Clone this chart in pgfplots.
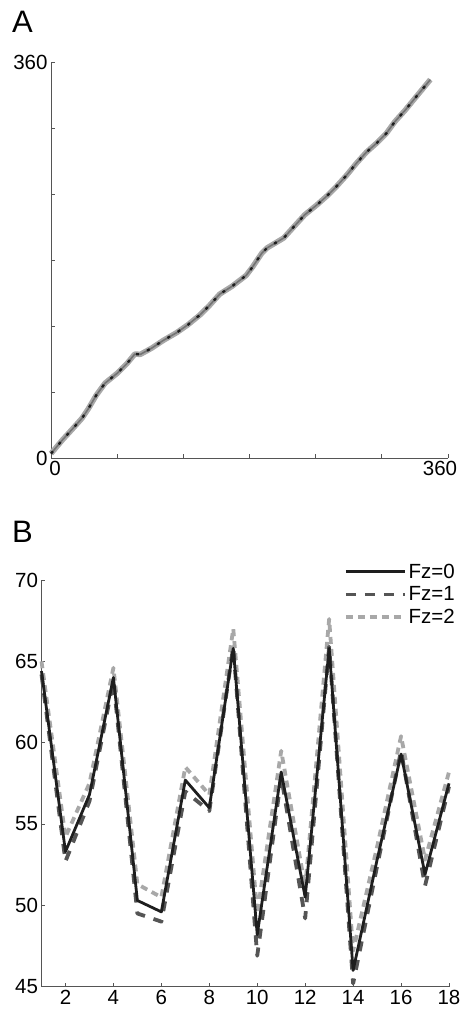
\documentclass[border=0pt]{standalone}
\usepackage{pgfplots}
\pgfplotsset{compat=1.18}
\usepackage{fontspec}
\setmainfont{Liberation Sans}
\definecolor{axgray}{HTML}{555555}
\definecolor{fzzero}{HTML}{1E1E1E}
\definecolor{fzone}{HTML}{555555}
\definecolor{fztwo}{HTML}{A8A8A8}
\pgfplotsset{
  myax/.style={
    scale only axis,
    axis x line=bottom, axis y line=left,
    axis line style={-, draw=axgray, line width=0.9pt},
    tick style={draw=axgray, line width=0.8pt},
    major tick length=4pt,
    tick align=inside,
    ticklabel style={font=\fontsize{20.5}{24}\selectfont, text=black},
    /pgf/number format/assume math mode=true,
    clip=false,
  }
}
\begin{document}
\begin{tikzpicture}[x=1pt,y=1pt]
\useasboundingbox (0,0) rectangle (462,1013);
\node[anchor=base west, font=\fontsize{31}{36}\selectfont, inner sep=0pt] at (12,980) {A};
\node[anchor=base west, font=\fontsize{31}{36}\selectfont, inner sep=0pt] at (12,470) {B};
% Panel A
\begin{axis}[myax, at={(51pt,555pt)}, anchor=south west,
  width=397pt, height=396pt,
  xmin=0, xmax=360, ymin=0, ymax=360,
  xtick={0,60,...,360}, xticklabels={\hspace*{8pt}0,,,,,,360\hspace*{16pt}},
  ytick={0,60,...,360}, yticklabels={0,,,,,,360},
]
\pgfplotstableread{
x y
0 4
10 16
20 27
28 36
34 45
41 57
49 68
60 77
69 86
76 94.5
81 94.2
91 99.7
102 107
114 114
124 121
135 130
144 139
153 149
164 156
177 166
183 174
191 186
196 191
211 200
220 210
230 221
241 230
250 238
259 247
268 257
277 268
286 278
295 286
304 295
312 306
321 316
330 327
344 344
}\dataA
\addplot[color=fztwo, line width=5.5pt, line join=round] table[x=x,y=y] {\dataA};
\addplot[color=black!55, line width=1.6pt, line join=round] table[x=x,y=y] {\dataA};
\addplot[color=fzzero, line width=2.4pt, dash pattern=on 3pt off 9pt] table[x=x,y=y] {\dataA};
\end{axis}
% Panel B
\begin{axis}[myax, at={(41.5pt,26.3pt)}, anchor=south west,
  width=407.5pt, height=406.7pt,
  xmin=1, xmax=18, ymin=45, ymax=70,
  xtick={2,4,...,18}, ytick={45,50,...,70},
  reverse legend,
  legend style={draw=none, fill=none, at={(1.027,1.05)}, anchor=north east,
    font=\fontsize{20.5}{23}\selectfont, row sep=3pt,
    /tikz/every even column/.append style={column sep=4pt}},
  legend cell align=left,
  legend image code/.code={\draw[#1] (0pt,0pt) -- (59pt,0pt);},
]
\pgfplotstableread{
x f0 f1 f2
1 64.4 64.2 65.0
2 53.3 52.7 54.2
3 56.8 56.4 57.5
4 64.0 63.8 64.6
5 50.3 49.5 51.3
6 49.6 49.0 50.5
7 57.7 57.0 58.5
8 56.0 55.8 56.8
9 65.8 65.9 67.0
10 48.2 46.9 49.5
11 58.2 57.9 59.5
12 50.5 49.2 51.1
13 65.8 65.9 67.6
14 46.0 45.2 47.2
15 52.8 52.4 53.6
16 59.3 59.5 60.4
17 51.9 51.2 52.8
18 57.5 57.3 58.2
}\dataB
\addplot[color=fztwo, line width=3.8pt, line join=round, dash pattern=on 7pt off 5pt] table[x=x,y=f2] {\dataB};
\addlegendentry{Fz=2}
\addplot[color=fzone, line width=3.8pt, line join=round, dash pattern=on 10pt off 9pt] table[x=x,y=f1] {\dataB};
\addlegendentry{Fz=1}
\addplot[color=fzzero, line width=2.8pt, line join=round] table[x=x,y=f0] {\dataB};
\addlegendentry{Fz=0}
\end{axis}
\end{tikzpicture}
\end{document}
